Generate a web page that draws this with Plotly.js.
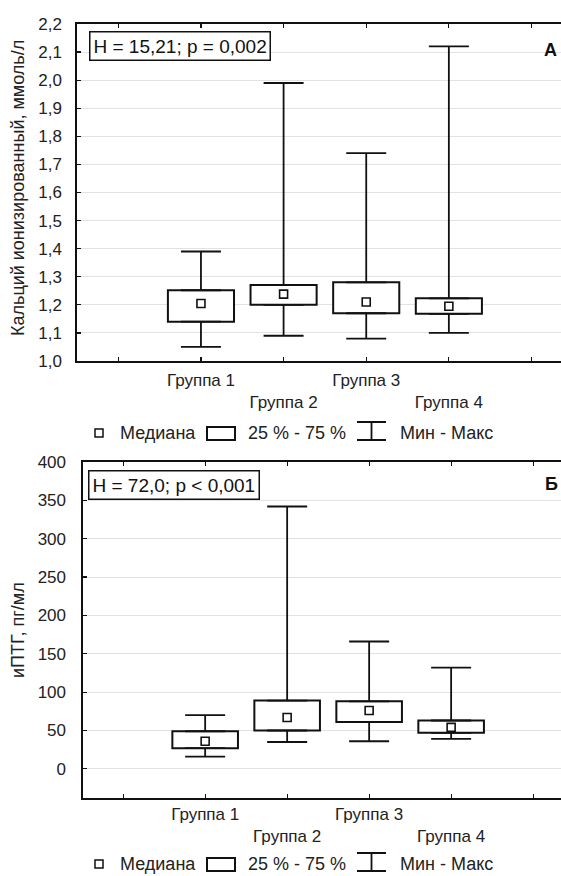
<!DOCTYPE html>
<html>
<head>
<meta charset="utf-8">
<script src="https://cdn.plot.ly/plotly-3.0.1.min.js"></script>
<style>
html,body{margin:0;padding:0;overflow:hidden;background:#fff;}
#chart{width:561px;height:876px;}
</style>
</head>
<body>
<div id="chart"></div>
<script>
// ---- data ----
var groups = ['Группа 1', 'Группа 2', 'Группа 3', 'Группа 4'];
var tickLabels = ['', 'Группа 1', '<br>Группа 2', 'Группа 3', '<br>Группа 4', ''];

var caMin = [1.05, 1.09, 1.08, 1.10];
var caQ1  = [1.14, 1.20, 1.17, 1.168];
var caMed = [1.205, 1.238, 1.21, 1.195];
var caQ3  = [1.252, 1.271, 1.28, 1.223];
var caMax = [1.39, 1.99, 1.74, 2.12];

var ptMin = [16, 35, 36, 39];
var ptQ1  = [27, 50, 61, 47];
var ptMed = [36, 67, 76, 54];
var ptQ3  = [49, 89, 88, 63];
var ptMax = [70, 342, 166, 132];

var statTop = 'H = 15,21; p = 0,002';
var statBottom = 'H = 72,0; p < 0,001';
var panelTop = 'А';
var panelBottom = 'Б';
var yTitleTop = 'Кальций ионизированный, ммоль/л';
var yTitleBottom = 'иПТГ, пг/мл';
var legendTexts = ['Медиана', '25 % - 75 %', 'Мин - Макс'];

// ---- helpers ----
var W = 561, H = 876;
function px(x){ return x / W; }
function py(y){ return 1 - y / H; }
var pos = groups.map(function(g, i){ return i + 1; });
var FONT = 'Liberation Sans, Arial, sans-serif';

function panelTraces(mn, q1, med, q3, mx, xa, ya){
  var sub = function(a, b){ return a.map(function(v, i){ return v - b[i]; }); };
  var zeros = pos.map(function(){ return 0; });
  return [
    { type:'bar', x:pos, base:q1, y:sub(q3, q1), width:0.8, xaxis:xa, yaxis:ya,
      marker:{color:'#ffffff', line:{color:'#111', width:2}}, hoverinfo:'skip', showlegend:false },
    { type:'scatter', mode:'markers', x:pos, y:q3, xaxis:xa, yaxis:ya,
      marker:{size:1, opacity:0}, showlegend:false, hoverinfo:'skip',
      error_y:{type:'data', symmetric:false, array:sub(mx, q3), arrayminus:zeros,
               width:20, thickness:1.8, color:'#111'} },
    { type:'scatter', mode:'markers', x:pos, y:q1, xaxis:xa, yaxis:ya,
      marker:{size:1, opacity:0}, showlegend:false, hoverinfo:'skip',
      error_y:{type:'data', symmetric:false, array:zeros, arrayminus:sub(q1, mn),
               width:20, thickness:1.8, color:'#111'} },
    { type:'scatter', mode:'markers', x:pos, y:med, xaxis:xa, yaxis:ya,
      marker:{symbol:'square', size:8, color:'#fff', line:{color:'#111', width:1.6}},
      showlegend:false, hoverinfo:'skip' }
  ];
}

var data = panelTraces(caMin, caQ1, caMed, caQ3, caMax, 'x', 'y')
  .concat(panelTraces(ptMin, ptQ1, ptMed, ptQ3, ptMax, 'x2', 'y2'));

var xCommon = {
  tickmode:'array', tickvals:[0,1,2,3,4,5], ticktext:tickLabels,
  showgrid:false, zeroline:false, showline:true, linecolor:'#111', linewidth:1.6,
  mirror:'allticks', ticks:'inside', ticklen:4, tickwidth:1.2, tickcolor:'#111',
  tickfont:{family:FONT, size:17, color:'#222'}, fixedrange:true
};
var yCommon = {
  showgrid:true, gridcolor:'#e2e2e2', gridwidth:1, zeroline:false,
  showline:true, linecolor:'#111', linewidth:1.6, mirror:false,
  ticks:'inside', ticklen:4, tickwidth:1.2, tickcolor:'#111',
  tickfont:{family:FONT, size:17, color:'#222'}, fixedrange:true
};

var layout = {
  width:W, height:H, margin:{l:0, r:0, t:0, b:0},
  paper_bgcolor:'#fff', plot_bgcolor:'#fff', separators:', ',
  showlegend:false, bargap:0,
  xaxis: Object.assign({}, xCommon, {domain:[px(77), 1], anchor:'y', range:[-0.5, 5.357], ticklabelstandoff:3}),
  yaxis: Object.assign({}, yCommon, {domain:[py(361), py(24)], anchor:'x',
          range:[1.0, 2.2], dtick:0.1, tick0:1.0, tickformat:'.1f', ticklabelstandoff:10}),
  xaxis2: Object.assign({}, xCommon, {domain:[px(83), 1], anchor:'y2', range:[-0.49, 5.34], ticklabelstandoff:0}),
  yaxis2: Object.assign({}, yCommon, {domain:[py(798), py(462)], anchor:'x2',
          range:[-38, 400], dtick:50, tick0:0, ticklabelstandoff:12}),
  annotations:[],
  shapes:[]
};

var A = layout.annotations, S = layout.shapes;
// stats boxes
A.push({xref:'paper', yref:'paper', x:px(89), y:py(46), xanchor:'left', yanchor:'middle',
  text:statTop, showarrow:false, font:{family:FONT, size:19, color:'#111'},
  bordercolor:'#111', borderwidth:1.5, borderpad:3, bgcolor:'#fff'});
A.push({xref:'paper', yref:'paper', x:px(88), y:py(485), xanchor:'left', yanchor:'middle',
  text:statBottom, showarrow:false, font:{family:FONT, size:19, color:'#111'},
  bordercolor:'#111', borderwidth:1.5, borderpad:3, bgcolor:'#fff'});
// panel letters
A.push({xref:'paper', yref:'paper', x:px(550), y:py(50), xanchor:'center', yanchor:'middle',
  text:'<b>' + panelTop + '</b>', showarrow:false, font:{family:FONT, size:18, color:'#111'}});
A.push({xref:'paper', yref:'paper', x:px(551), y:py(484), xanchor:'center', yanchor:'middle',
  text:'<b>' + panelBottom + '</b>', showarrow:false, font:{family:FONT, size:18, color:'#111'}});
// y titles
A.push({xref:'paper', yref:'paper', x:px(18), y:py(188), xanchor:'center', yanchor:'middle',
  text:yTitleTop, textangle:-90, showarrow:false, font:{family:FONT, size:18, color:'#222'}});
A.push({xref:'paper', yref:'paper', x:px(18), y:py(630), xanchor:'center', yanchor:'middle',
  text:yTitleBottom, textangle:-90, showarrow:false, font:{family:FONT, size:18, color:'#222'}});

// legends (drawn keys)
function legendRow(yc){
  S.push({type:'rect', xref:'paper', yref:'paper', x0:px(95), x1:px(103), y0:py(yc+4), y1:py(yc-4),
    line:{color:'#111', width:1.5}, fillcolor:'#fff'});
  A.push({xref:'paper', yref:'paper', x:px(118), y:py(yc), xanchor:'left', yanchor:'middle',
    text:legendTexts[0], showarrow:false, font:{family:FONT, size:18, color:'#222'}});
  S.push({type:'rect', xref:'paper', yref:'paper', x0:px(207), x1:px(235), y0:py(yc+7), y1:py(yc-6),
    line:{color:'#111', width:2}, fillcolor:'#fff'});
  A.push({xref:'paper', yref:'paper', x:px(246), y:py(yc), xanchor:'left', yanchor:'middle',
    text:legendTexts[1], showarrow:false, font:{family:FONT, size:18, color:'#222'}});
  var x0 = px(357), x1 = px(386), xm = px(371.5), yt = py(yc-11), yb = py(yc+7);
  S.push({type:'path', xref:'paper', yref:'paper',
    path:'M' + x0 + ',' + yt + ' L' + x1 + ',' + yt + ' M' + xm + ',' + yt + ' L' + xm + ',' + yb +
         ' M' + x0 + ',' + yb + ' L' + x1 + ',' + yb,
    line:{color:'#111', width:1.8}});
  A.push({xref:'paper', yref:'paper', x:px(398), y:py(yc), xanchor:'left', yanchor:'middle',
    text:legendTexts[2], showarrow:false, font:{family:FONT, size:18, color:'#222'}});
}
legendRow(433);
legendRow(864);

Plotly.newPlot('chart', data, layout, {staticPlot:true, displayModeBar:false});
</script>
</body>
</html>
